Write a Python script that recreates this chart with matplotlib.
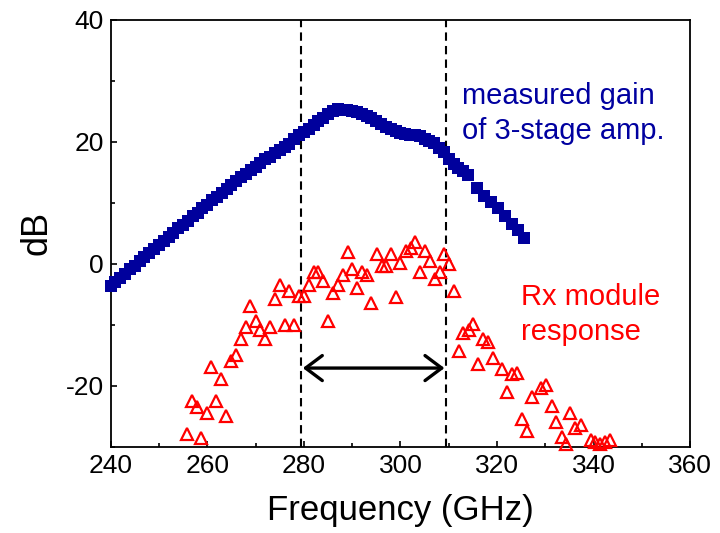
import matplotlib
matplotlib.use("Agg")
import matplotlib.pyplot as plt
from matplotlib.ticker import MultipleLocator

plt.rcParams['font.family'] = ['Liberation Sans', 'DejaVu Sans']
plt.rcParams['axes.unicode_minus'] = False

# measured gain of 3-stage amplifier (blue squares)
gain_freq = [240, 241, 242, 243, 244, 245, 246, 247, 248, 249,
             250, 251, 252, 253, 254, 255, 256, 257, 258, 259,
             260, 261, 262, 263, 264, 265, 266, 267, 268, 269,
             270, 271, 272, 273, 274, 275, 276, 277, 278, 279,
             280, 281, 282, 283, 284, 285, 286, 287, 288, 289,
             290, 291, 292, 293, 294, 295, 296, 297, 298, 299,
             300, 301, 302, 303, 304, 305, 306, 307, 308, 309,
             310, 311, 312, 313, 314,
             315.8, 317.3, 318.8, 320.2, 321.6, 323.0, 324.4, 325.5]
gain_db = [-3.6, -2.9, -2.3, -1.6, -0.9, -0.3, 0.4, 1.1, 1.7, 2.4,
           3.1, 3.8, 4.4, 5.1, 5.8, 6.4, 7.1, 7.8, 8.4, 9.1,
           9.7, 10.4, 11.0, 11.7, 12.3, 12.9, 13.6, 14.2, 14.8, 15.4,
           15.9, 16.6, 17.2, 17.6, 18.1, 18.6, 19.1, 19.7, 20.4, 21.2,
           21.6, 22.1, 22.7, 23.4, 24.0, 24.6, 25.1, 25.4, 25.3, 25.2,
           25.0, 24.9, 24.6, 24.3, 23.9, 23.5, 23.0, 22.5, 22.1, 21.8,
           21.5, 21.3, 21.1, 21.2, 21.0, 20.5, 20.2, 19.9, 19.0, 18.3,
           17.2, 16.4, 15.8, 15.2, 14.6,
           12.4, 11.1, 10.2, 9.1, 7.8, 6.6, 5.5, 4.2]

# Rx module response (red open triangles)
rx_freq = [255.8, 256.8, 257.9, 258.8, 259.9, 260.8, 261.9, 262.8, 263.9, 264.9,
           265.9, 266.9, 268.0, 268.9, 270.0, 270.9, 272.0, 273.0, 274.0, 275.1,
           276.0, 277.0, 278.0, 279.0, 280.1, 281.0, 282.0, 283.0, 284.0, 285.0,
           286.1, 287.1, 288.0, 289.1, 290.0, 291.1, 292.0, 293.1, 294.0, 295.1,
           296.1, 297.1, 298.0, 299.1, 300.0, 301.1, 302.1, 303.1, 304.1, 305.0,
           306.1, 307.1, 308.1, 309.1, 310.1, 311.1, 312.1, 313.0, 314.1, 315.1,
           316.1, 317.0, 318.1, 319.1, 321.1, 322.0, 323.1, 324.2, 325.1, 326.3,
           327.2, 329.1, 330.1, 331.3, 332.2, 333.4, 334.3, 335.2, 336.2, 337.3,
           339.4, 340.3, 341.3, 342.3, 343.3]
rx_db = [-27.9, -22.5, -23.5, -28.5, -24.4, -16.9, -22.5, -18.9, -25.0, -15.9,
         -14.9, -12.4, -10.4, -6.9, -9.3, -10.9, -12.4, -10.4, -5.8, -3.4,
         -10.0, -4.5, -10.0, -5.3, -5.3, -3.4, -1.3, -1.3, -2.8, -9.3,
         -4.8, -3.4, -1.9, 2.0, -0.9, -4.0, -1.4, -1.9, -6.4, 1.6,
         -0.4, -0.4, 1.6, -5.4, 0.1, 2.1, 2.6, 3.6, -1.4, 2.1,
         0.5, -2.5, -1.4, 1.6, 0.0, -4.5, -14.3, -11.4, -10.9, -9.8,
         -16.4, -12.4, -12.8, -15.5, -17.3, -21.0, -18.1, -17.9, -25.5, -27.5,
         -21.8, -20.4, -19.9, -23.4, -25.9, -28.4, -29.6, -24.5, -27.0, -26.4,
         -28.9, -29.3, -29.6, -29.3, -28.9]

band_edges = [279.5, 309.4]
arrow_level = -17.1

fig = plt.figure(figsize=(7.2, 5.33), dpi=100)
ax = fig.add_axes([0.1537, 0.1619, 0.805, 0.8006])

ax.plot(gain_freq, gain_db, linestyle='none', marker='s', markersize=8,
        color='#00009C', markeredgewidth=0, clip_on=False, zorder=3)
ax.plot(rx_freq, rx_db, linestyle='none', marker='^', markersize=9,
        markerfacecolor='none', markeredgecolor='#FF0000', markeredgewidth=1.6,
        clip_on=False, zorder=3)

for xe in band_edges:
    ax.axvline(xe, color='black', linewidth=1.5, linestyle=(0, (4, 2.5)), zorder=2)

ax.annotate('', xy=(band_edges[1], arrow_level), xytext=(band_edges[0], arrow_level),
            arrowprops=dict(arrowstyle='<->,head_length=0.6,head_width=0.45',
                            mutation_scale=20, lw=2.4, color='black',
                            shrinkA=1, shrinkB=1))

ax.text(312.7, 26.2, 'measured gain', color='#0000A0', fontsize=21, va='baseline', ha='left')
ax.text(312.7, 20.5, 'of 3-stage amp.', color='#0000A0', fontsize=21, va='baseline', ha='left')
ax.text(325.0, -6.8, 'Rx module', color='#FF0000', fontsize=21, va='baseline', ha='left')
ax.text(325.0, -12.5, 'response', color='#FF0000', fontsize=21, va='baseline', ha='left')

ax.set_xlim(240, 360)
ax.set_ylim(-30, 40)
ax.xaxis.set_major_locator(MultipleLocator(20))
ax.xaxis.set_minor_locator(MultipleLocator(10))
ax.yaxis.set_major_locator(MultipleLocator(20))
ax.yaxis.set_minor_locator(MultipleLocator(10))
ax.tick_params(which='both', direction='in', top=False, right=False, width=1.2)
ax.tick_params(which='major', length=4.5, labelsize=19, pad=5)
ax.tick_params(which='minor', length=3)
for s in ax.spines.values():
    s.set_linewidth(1.3)

ax.set_xlabel('Frequency (GHz)', fontsize=25, labelpad=12)
ax.set_ylabel('dB', fontsize=26, labelpad=8)

fig.savefig('out.png', dpi=100)
